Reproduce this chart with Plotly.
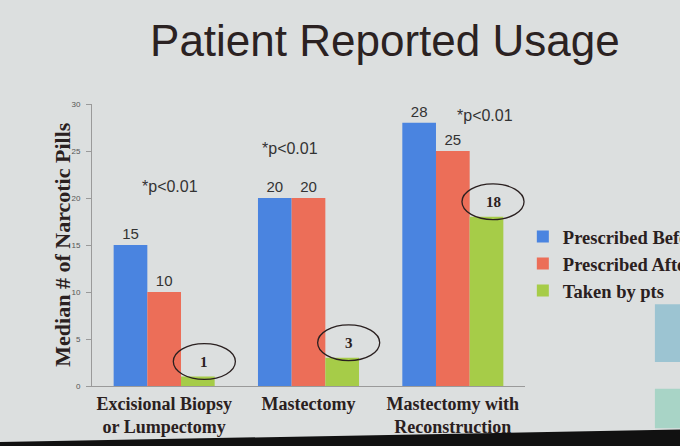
import plotly.graph_objects as go

categories = ["Excisional Biopsy<br>or Lumpectomy", "Mastectomy", "Mastectomy with<br>Reconstruction"]
prescribed_before = [15, 20, 28]
prescribed_after = [10, 20, 25]
taken_by_pts = [1, 3, 18]
sig_labels = ["*p&lt;0.01", "*p&lt;0.01", "*p&lt;0.01"]
sig_x = [0.04, 0.87, 2.22]
sig_y = [21.2, 25.3, 28.8]

BLUE = "#4a84e0"
RED = "#ec6e58"
GREEN = "#a6cc48"
BG = "#dcdfdf"
SERIF = "Liberation Serif, DejaVu Serif, serif"
SANS = "Liberation Sans, Arial, sans-serif"

xs = list(range(len(categories)))
fig = go.Figure()
for name, vals, col in [("Prescribed Before", prescribed_before, BLUE),
                        ("Prescribed After", prescribed_after, RED)]:
    fig.add_trace(go.Bar(x=xs, y=vals, name="<b>%s</b>" % name, marker_color=col, marker_line_width=0,
                         text=[str(v) for v in vals], textposition="outside",
                         textfont=dict(family=SANS, size=15, color="#333333"),
                         cliponaxis=False))
fig.add_trace(go.Bar(x=xs, y=taken_by_pts, name="<b>Taken by pts</b>", marker_color=GREEN,
                     marker_line_width=0, cliponaxis=False))

bargap = 0.3
bw = (1 - bargap) / 3
shapes = []
annotations = []
for i, v in enumerate(taken_by_pts):
    cx = i + bw + 0.045
    cy = v + 1.6
    shapes.append(dict(type="circle", xref="x", yref="y", x0=cx - 0.215, x1=cx + 0.215,
                       y0=cy - 1.9, y1=cy + 1.9, line=dict(color="#2a2020", width=1.3)))
    annotations.append(dict(x=cx, y=cy, xref="x", yref="y", text="<b>%d</b>" % v, showarrow=False,
                            font=dict(family=SERIF, size=15, color="#2a2020")))
# slide decorations
shapes.append(dict(type="path", xref="paper", yref="paper", layer="below",
                   path="M -0.25 -0.200 L 1.40 -0.153 L 1.40 -0.30 L -0.25 -0.30 Z",
                   fillcolor="#111111", line_width=0))
shapes.append(dict(type="rect", xref="paper", yref="paper", x0=1.30, x1=1.40, y0=0.085, y1=0.29,
                   fillcolor="#9cc4d2", line_width=0, layer="below"))
shapes.append(dict(type="rect", xref="paper", yref="paper", x0=1.30, x1=1.40, y0=-0.150, y1=-0.01,
                   fillcolor="#a8d4c6", line_width=0, layer="below"))

for t, x, y in zip(sig_labels, sig_x, sig_y):
    annotations.append(dict(x=x, y=y, xref="x", yref="y", text=t, showarrow=False,
                            font=dict(family=SANS, size=16, color="#333333")))
annotations.append(dict(x=-0.07, y=0.5, xref="paper", yref="paper", textangle=-90,
                        text="<b>Median # of Narcotic Pills</b>", showarrow=False,
                        xanchor="center", yanchor="middle",
                        font=dict(family=SERIF, size=22, color="#2a2020")))

fig.update_layout(
    width=680, height=446,
    paper_bgcolor=BG, plot_bgcolor=BG,
    margin=dict(l=92, r=155, t=104, b=60, autoexpand=False),
    barmode="group", bargap=bargap, bargroupgap=0,
    title=dict(text="Patient Reported Usage", x=0.566, xanchor="center", y=0.91, yanchor="middle",
               xref="container", yref="container",
               font=dict(family=SANS, size=44, color="#2b2222")),
    showlegend=True,
    legend=dict(x=0.995, xanchor="left", y=0.433, yanchor="middle",
                font=dict(family=SERIF, size=18.5, color="#2a2020"),
                bgcolor="rgba(0,0,0,0)", itemwidth=30, tracegroupgap=4, traceorder="normal"),
    shapes=shapes,
    annotations=annotations,
)
fig.update_xaxes(tickmode="array", tickvals=xs, ticktext=["<b>%s</b>" % c for c in categories],
                 range=[-0.5, 2.5], showline=True, linecolor="#9a9a9a", linewidth=1,
                 ticklabelstandoff=1,
                 tickfont=dict(family=SERIF, size=18, color="#2a2020"), ticks="", showgrid=False)
fig.update_yaxes(range=[0, 30], dtick=5, showline=True, linecolor="#9a9a9a", linewidth=1,
                 ticks="outside", ticklen=5, tickcolor="#9a9a9a", showgrid=False, zeroline=False,
                 ticklabelstandoff=4,
                 tickfont=dict(family=SANS, size=8, color="#555555"))

fig.write_html("out.html", config={"displayModeBar": False},
               post_script="document.body.style.margin='0px';")
